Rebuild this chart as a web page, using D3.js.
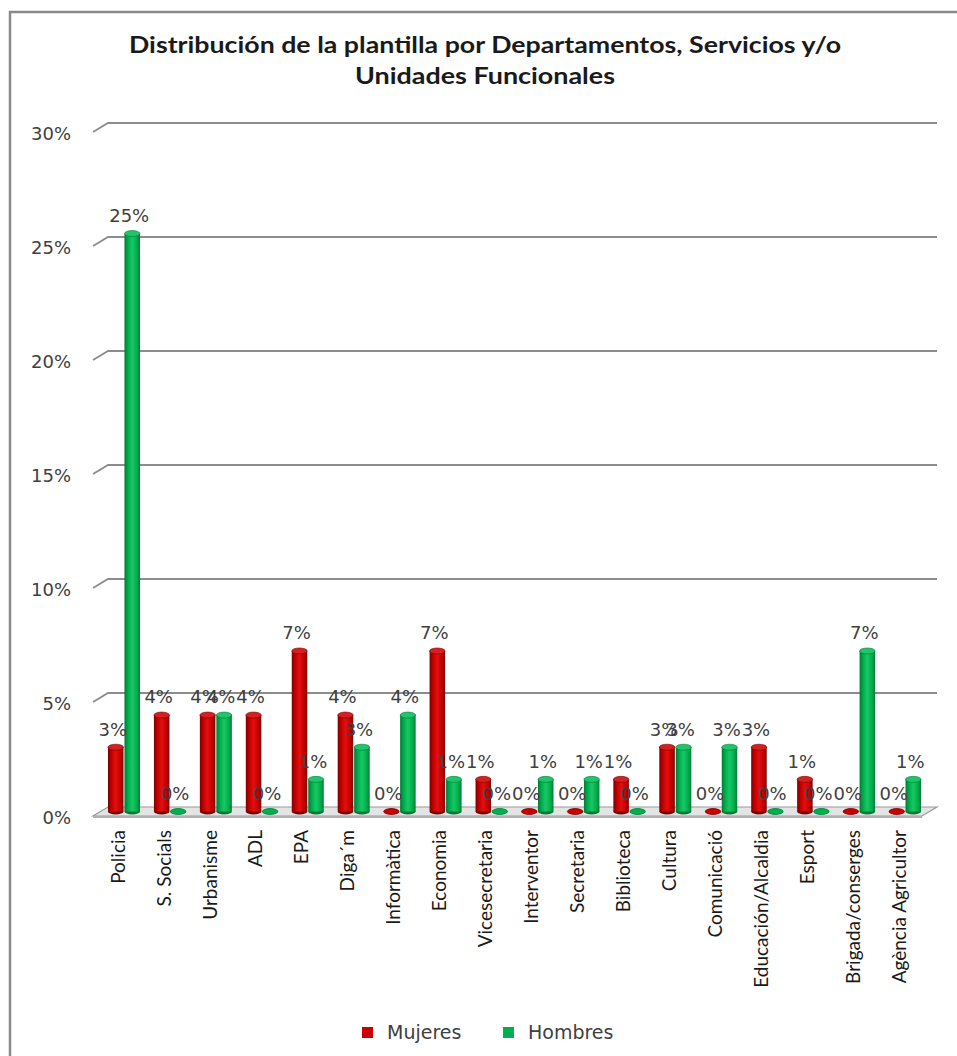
<!DOCTYPE html>
<html>
<head>
<meta charset="utf-8">
<script src="https://cdn.jsdelivr.net/npm/d3@7"></script>
<style>
  html, body { margin: 0; padding: 0; background: #fff; }
  svg { display: block; }
</style>
</head>
<body>
<svg id="chart" width="957" height="1056"></svg>
<script>
// Departments / services
const categories = [
  "Policia", "S. Socials", "Urbanisme", "ADL", "EPA", "Diga´m", "Informàtica",
  "Economia", "Vicesecretaria", "Interventor", "Secretaria", "Biblioteca",
  "Cultura", "Comunicació", "Educación/Alcaldia", "Esport", "Brigada/conserges",
  "Agència Agricultor"
];
// Share of total staff per department
const mujeres = [0.0282, 0.0423, 0.0423, 0.0423, 0.0704, 0.0423, 0, 0.0704, 0.0141,
  0, 0, 0.0141, 0.0282, 0, 0.0282, 0.0141, 0, 0];
const hombres = [0.2535, 0, 0.0423, 0, 0.0141, 0.0282, 0.0423, 0.0141, 0, 0.0141,
  0.0141, 0, 0.0282, 0.0282, 0, 0, 0.0704, 0.0141];
const seriesNames = ["Mujeres", "Hombres"];
const yTicks = [0, 0.05, 0.10, 0.15, 0.20, 0.25, 0.30];
const titleLines = ["Distribución de la plantilla por Departamentos, Servicios y/o",
  "Unidades Funcionales"];

const svg = d3.select("#chart");
const fmt = d3.format(".0%");

// 3D box geometry: back wall and depth offset toward the viewer
const wallLeft = 108, wallRight = 937;
const depthX = -15, depthY = 9;
const y = d3.scaleLinear().domain([0, 0.30]).range([807, 123]);
const midY = v => y(v) + depthY / 2;

const x = d3.scaleBand().domain(categories).range([101, 928]).padding(0);
const xs = d3.scaleBand().domain(seriesNames).range([-16, 16]).paddingInner(0.06);

const colors = {
  Mujeres: { dark: "#7d0000", mid: "#c80000", light: "#e01010", top: "#d42020" },
  Hombres: { dark: "#007a34", mid: "#00b050", light: "#18c862", top: "#22c46a" }
};

// outer chart frame
svg.append("rect").attr("x", 10).attr("y", 12).attr("width", 1000).attr("height", 1100)
  .attr("fill", "#fff").attr("stroke", "#8a8a8a").attr("stroke-width", 2.5);

// gradients for cylinders
const defs = svg.append("defs");
seriesNames.forEach(s => {
  const g = defs.append("linearGradient").attr("id", "grad-" + s)
    .attr("x1", "0%").attr("x2", "100%").attr("y1", "0%").attr("y2", "0%");
  const c = colors[s];
  g.append("stop").attr("offset", "0%").attr("stop-color", c.dark);
  g.append("stop").attr("offset", "25%").attr("stop-color", c.mid);
  g.append("stop").attr("offset", "50%").attr("stop-color", c.light);
  g.append("stop").attr("offset", "78%").attr("stop-color", c.mid);
  g.append("stop").attr("offset", "100%").attr("stop-color", c.dark);
});

// title (two centred lines, fitted to the frame width)
const titleWidths = [712, 260];
const title = svg.append("g").attr("font-family", "Lato, 'Open Sans', sans-serif")
  .attr("font-weight", "bold").attr("fill", "#1a1a1a").attr("text-anchor", "middle");
title.selectAll("text").data(titleLines).join("text")
  .attr("x", 485).attr("y", (d, i) => 53 + i * 31)
  .attr("font-size", 23)
  .attr("textLength", (d, i) => titleWidths[i])
  .attr("lengthAdjust", "spacingAndGlyphs")
  .text(d => d);

// floor slab
const floorBack = y(0);
svg.append("polygon")
  .attr("points", [[wallLeft, floorBack], [wallRight, floorBack],
    [wallRight + depthX, floorBack + depthY], [wallLeft + depthX, floorBack + depthY]].join(" "))
  .attr("fill", "#e4e4e4").attr("stroke", "#9a9a9a").attr("stroke-width", 1.2);
svg.append("rect").attr("x", wallLeft + depthX).attr("y", floorBack + depthY)
  .attr("width", wallRight - wallLeft).attr("height", 2).attr("fill", "#b0b0b0");

// gridlines with slanted left edge
const grid = svg.append("g").attr("stroke", "#8c8c8c").attr("stroke-width", 1.8).attr("fill", "none");
grid.selectAll("path").data(yTicks.filter(t => t > 0)).join("path")
  .attr("d", t => `M${wallLeft + depthX},${y(t) + depthY}L${wallLeft},${y(t)}L${wallRight},${y(t)}`);

// y tick labels
svg.append("g").attr("font-family", "'DejaVu Sans', Verdana, sans-serif").attr("font-size", 18)
  .attr("fill", "#404040").attr("text-anchor", "end")
  .selectAll("text").data(yTicks).join("text")
  .attr("x", 71).attr("y", t => y(t) + 11).attr("dy", "0.35em").text(fmt);

// bars as cylinders
const rows = [];
categories.forEach((c, i) => {
  rows.push({ cat: c, s: "Mujeres", v: mujeres[i] });
  rows.push({ cat: c, s: "Hombres", v: hombres[i] });
});
const cx = d => x(d.cat) + x.bandwidth() / 2 + xs(d.s);
const w = xs.bandwidth();
const ry = 3;

const bars = svg.append("g").selectAll("g").data(rows).join("g");
bars.append("ellipse")
  .attr("cx", d => cx(d) + w / 2).attr("cy", midY(0))
  .attr("rx", w / 2).attr("ry", ry).attr("fill", d => colors[d.s].dark);
bars.append("rect")
  .attr("x", d => cx(d)).attr("y", d => midY(d.v))
  .attr("width", w).attr("height", d => midY(0) - midY(d.v))
  .attr("fill", d => `url(#grad-${d.s})`);
bars.append("ellipse")
  .attr("cx", d => cx(d) + w / 2).attr("cy", d => midY(d.v))
  .attr("rx", w / 2).attr("ry", ry)
  .attr("fill", d => d.v > 0 ? colors[d.s].top : colors[d.s].mid)
  .attr("stroke", d => colors[d.s].dark).attr("stroke-width", 0.6);

// value labels
svg.append("g").attr("font-family", "'DejaVu Sans', Verdana, sans-serif").attr("font-size", 18)
  .attr("fill", "#404040").attr("text-anchor", "middle")
  .selectAll("text").data(rows).join("text")
  .attr("x", d => cx(d) + w / 2 - 3).attr("y", d => midY(d.v) - 18).attr("dy", "0.35em")
  .text(d => fmt(d.v));

// category labels, rotated
svg.append("g").attr("font-family", "Lato, 'Open Sans', sans-serif").attr("font-size", 19)
  .attr("fill", "#1a1a1a").attr("text-anchor", "end")
  .selectAll("text").data(categories).join("text")
  .attr("transform", c => `translate(${x(c) + x.bandwidth() / 2 - 6},830) rotate(-90)`)
  .attr("dy", "0.35em").text(c => c);

// legend
const legend = svg.append("g").attr("font-family", "'DejaVu Sans', Verdana, sans-serif")
  .attr("font-size", 19).attr("fill", "#404040");
const legendX = d3.scaleOrdinal().domain(seriesNames).range([362, 503]);
const li = legend.selectAll("g").data(seriesNames).join("g")
  .attr("transform", s => `translate(${legendX(s)},1027)`);
li.append("rect").attr("width", 11).attr("height", 11).attr("fill", s => colors[s].mid);
li.append("text").attr("x", 25).attr("y", 5.5).attr("dy", "0.35em").text(s => s);
</script>
</body>
</html>
